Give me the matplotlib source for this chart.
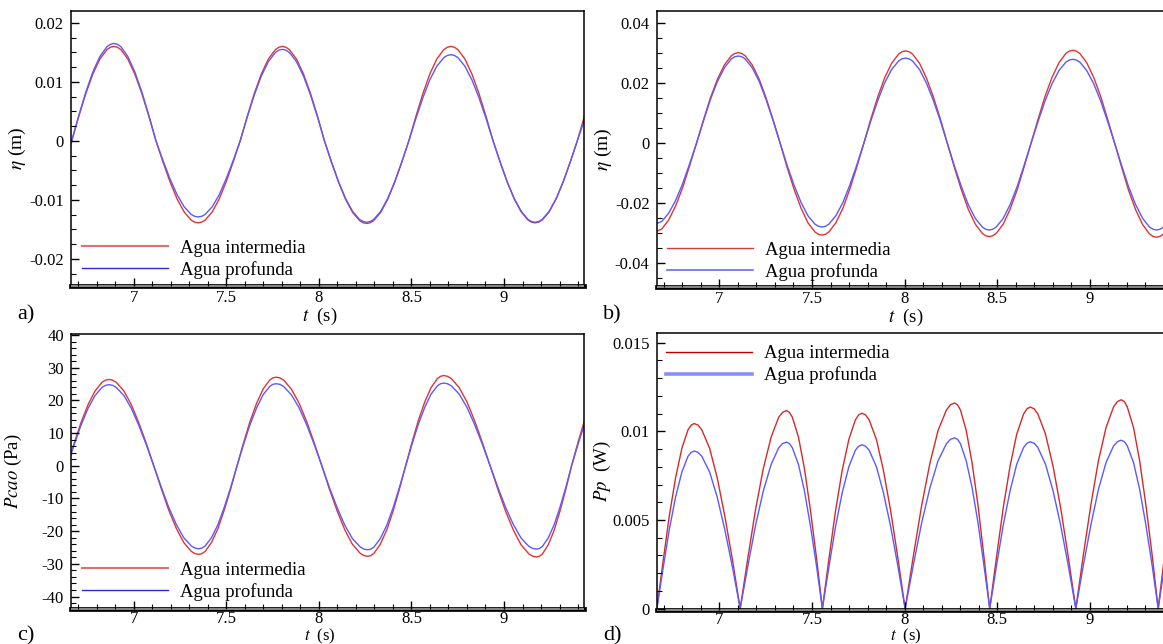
import matplotlib
matplotlib.use('Agg')
import matplotlib.pyplot as plt
from matplotlib.lines import Line2D
from matplotlib.ticker import MultipleLocator, FuncFormatter

plt.rcParams['font.family'] = ['Liberation Serif', 'DejaVu Serif']
plt.rcParams['mathtext.fontset'] = 'stix'
plt.rcParams['axes.unicode_minus'] = False

# ---------------- data ----------------
series_labels = ['Agua intermedia', 'Agua profunda']

# panel a) eta (m)
t_a = [6.627, 6.665, 6.703, 6.741, 6.779, 6.817, 6.855, 6.893, 6.931, 6.968, 7.006,
       7.044, 7.082, 7.120, 7.158, 7.196, 7.234, 7.272, 7.310, 7.348, 7.386, 7.424,
       7.462, 7.499, 7.537, 7.575, 7.613, 7.651, 7.689, 7.727, 7.765, 7.803, 7.841,
       7.879, 7.917, 7.955, 7.993, 8.030, 8.068, 8.106, 8.144, 8.182, 8.220, 8.258,
       8.296, 8.334, 8.372, 8.410, 8.448, 8.486, 8.524, 8.562, 8.599, 8.637, 8.675,
       8.713, 8.751, 8.789, 8.827, 8.865, 8.903, 8.941, 8.979, 9.017, 9.055, 9.093,
       9.130, 9.168, 9.206, 9.244, 9.282, 9.320, 9.358, 9.396, 9.434]
eta_a_int = [-0.0036,
             0, .00414, .0080, .01131, .01386, .01545, .0160, .01545, .01386, .01131, .0080, .00414, 0,
             -.0036, -.00695, -.00983, -.01204, -.01343, -.0139, -.01343, -.01204, -.00983, -.00695, -.0036, 0,
             .00414, .0080, .01131, .01386, .01545, .0160, .01545, .01386, .01131, .0080, .00414, 0,
             -.00362, -.0070, -.0099, -.01212, -.01352, -.0140, -.01352, -.01212, -.0099, -.0070, -.00362, 0,
             .00414, .0080, .01131, .01386, .01545, .0160, .01545, .01386, .01131, .0080, .00414, 0,
             -.0036, -.00695, -.00983, -.01204, -.01343, -.0139, -.01343, -.01204, -.00983, -.00695, -.0036, 0,
             .00414]
eta_a_prof = [-0.0034,
              0, .00427, .00825, .01167, .01429, .01594, .0165, .01594, .01429, .01167, .00825, .00427, 0,
              -.00334, -.00645, -.00912, -.01117, -.01246, -.0129, -.01246, -.01117, -.00912, -.00645, -.00334, 0,
              .00401, .00775, .01096, .01342, .01497, .0155, .01497, .01342, .01096, .00775, .00401, 0,
              -.00357, -.0069, -.00976, -.01195, -.01333, -.0138, -.01333, -.01195, -.00976, -.0069, -.00357, 0,
              .00378, .0073, .01032, .01264, .0141, .0146, .0141, .01264, .01032, .0073, .00378, 0,
              -.00357, -.0069, -.00976, -.01195, -.01333, -.0138, -.01333, -.01195, -.00976, -.0069, -.00357, 0,
              .0035]
# extra points read next to each crest / trough
t_a_ext = [6.874, 6.912, 7.329, 7.367, 7.784, 7.822, 8.239, 8.277, 8.694, 8.732, 9.149, 9.187]
eta_a_int_ext = [.01586, .01586, -.01378, -.01378, .01586, .01586,
                 -.01388, -.01388, .01586, .01586, -.01378, -.01378]
eta_a_prof_ext = [.01636, .01636, -.01279, -.01279, .01537, .01537,
                  -.01368, -.01368, .01447, .01447, -.01368, -.01368]

# panel b) eta (m)
t_b = [6.650, 6.688, 6.725, 6.763, 6.801, 6.838, 6.876, 6.914, 6.951, 6.989, 7.027,
       7.064, 7.102, 7.139, 7.177, 7.215, 7.252, 7.290, 7.328, 7.365, 7.403, 7.441,
       7.478, 7.516, 7.554, 7.591, 7.629, 7.667, 7.704, 7.742, 7.780, 7.817, 7.855,
       7.892, 7.930, 7.968, 8.005, 8.043, 8.081, 8.118, 8.156, 8.194, 8.231, 8.269,
       8.307, 8.344, 8.382, 8.420, 8.457, 8.495, 8.533, 8.570, 8.608, 8.645, 8.683,
       8.721, 8.758, 8.796, 8.834, 8.871, 8.909, 8.947, 8.984, 9.022, 9.060, 9.097,
       9.135, 9.173, 9.210, 9.248, 9.286, 9.323, 9.361, 9.398, 9.436]
eta_b_int = [-.0296, -.02859, -.02563, -.02093, -.0148, -.00766, 0,
             .00782, .0151, .02135, .02615, .02917, .0302, .02917, .02615, .02135, .0151, .00782, 0,
             -.00792, -.0153, -.02164, -.0265, -.02956, -.0306, -.02956, -.0265, -.02164, -.0153, -.00792, 0,
             .00797, .0154, .02178, .02667, .02975, .0308, .02975, .02667, .02178, .0154, .00797, 0,
             -.00805, -.01555, -.02199, -.02693, -.03004, -.0311, -.03004, -.02693, -.02199, -.01555, -.00805, 0,
             .00802, .0155, .02192, .02685, .02994, .0310, .02994, .02685, .02192, .0155, .00802, 0,
             -.0081, -.01565, -.02213, -.02711, -.03023, -.0313, -.03023, -.02711]
eta_b_prof = [-.0270, -.02608, -.02338, -.01909, -.0135, -.00699, 0,
              .00753, .01455, .02058, .0252, .02811, .0291, .02811, .0252, .02058, .01455, .00753, 0,
              -.00722, -.01395, -.01973, -.02416, -.02695, -.0279, -.02695, -.02416, -.01973, -.01395, -.00722, 0,
              .00735, .0142, .02008, .02459, .02743, .0284, .02743, .02459, .02008, .0142, .00735, 0,
              -.00748, -.01445, -.02044, -.02503, -.02791, -.0289, -.02791, -.02503, -.02044, -.01445, -.00748, 0,
              .00725, .014, .0198, .02425, .02705, .0280, .02705, .02425, .0198, .014, .00725, 0,
              -.00748, -.01445, -.02044, -.02503, -.02791, -.0289, -.02791, -.02503]
t_b_ext = [7.083, 7.121, 7.535, 7.573, 7.986, 8.024, 8.438, 8.476, 8.890, 8.928, 9.342, 9.380]
eta_b_int_ext = [.02994, .02994, -.03034, -.03034, .03054, .03054,
                 -.03083, -.03083, .03073, .03073, -.03103, -.03103]
eta_b_prof_ext = [.02885, .02885, -.02766, -.02766, .02816, .02816,
                  -.02865, -.02865, .02776, .02776, -.02865, -.02865]

# panel c) P_cao (Pa)
t_c = [6.640, 6.678, 6.715, 6.753, 6.791, 6.828, 6.866,
       6.906, 6.947, 6.987, 7.027, 7.068, 7.108,
       7.149, 7.189, 7.230, 7.270, 7.311, 7.351,
       7.386, 7.420, 7.455, 7.489, 7.524, 7.558,
       7.593, 7.628, 7.664, 7.699, 7.734, 7.769,
       7.810, 7.851, 7.893, 7.934, 7.975, 8.016,
       8.057, 8.099, 8.140, 8.181, 8.223, 8.264,
       8.298, 8.332, 8.367, 8.401, 8.435, 8.469,
       8.503, 8.537, 8.572, 8.606, 8.640, 8.674,
       8.716, 8.758, 8.800, 8.841, 8.883, 8.925,
       8.967, 9.009, 9.051, 9.092, 9.134, 9.176,
       9.208, 9.239, 9.271, 9.302, 9.334, 9.365,
       9.400, 9.435]
p_c_int = [0, 6.83, 13.2, 18.67, 22.86, 25.5, 26.4,
           25.5, 22.86, 18.67, 13.2, 6.83, 0,
           -7.01, -13.55, -19.16, -23.47, -26.18, -27.1,
           -26.18, -23.47, -19.16, -13.55, -7.01, 0,
           7.01, 13.55, 19.16, 23.47, 26.18, 27.1,
           26.18, 23.47, 19.16, 13.55, 7.01, 0,
           -7.17, -13.85, -19.59, -23.99, -26.76, -27.7,
           -26.76, -23.99, -19.59, -13.85, -7.17, 0,
           7.14, 13.8, 19.52, 23.9, 26.66, 27.6,
           26.66, 23.9, 19.52, 13.8, 7.14, 0,
           -7.22, -13.95, -19.73, -24.16, -26.95, -27.9,
           -26.95, -24.16, -19.73, -13.95, -7.22, 0,
           7.2, 13.9]
p_c_prof = [0, 6.42, 12.4, 17.54, 21.48, 23.95, 24.8,
            23.95, 21.48, 17.54, 12.4, 6.42, 0,
            -6.57, -12.7, -17.96, -22.0, -24.53, -25.4,
            -24.53, -22.0, -17.96, -12.7, -6.57, 0,
            6.5, 12.55, 17.75, 21.74, 24.24, 25.1,
            24.24, 21.74, 17.75, 12.55, 6.5, 0,
            -6.65, -12.85, -18.17, -22.26, -24.82, -25.7,
            -24.82, -22.26, -18.17, -12.85, -6.65, 0,
            6.55, 12.65, 17.89, 21.91, 24.44, 25.3,
            24.44, 21.91, 17.89, 12.65, 6.55, 0,
            -6.6, -12.75, -18.03, -22.08, -24.63, -25.5,
            -24.63, -22.08, -18.03, -12.75, -6.6, 0,
            6.6, 12.75]
t_c_ext = [6.847, 6.886, 7.331, 7.368, 7.751, 7.790, 8.243, 8.281, 8.657, 8.695, 9.155, 9.192]
p_c_int_ext = [26.17, 26.17, -26.87, -26.87, 26.87, 26.87,
               -27.46, -27.46, 27.36, 27.36, -27.66, -27.66]
p_c_prof_ext = [24.59, 24.59, -25.18, -25.18, 24.89, 24.89,
                -25.48, -25.48, 25.08, 25.08, -25.28, -25.28]

# panel d) P_p (W)
t_d = [6.662, 6.696, 6.729, 6.763, 6.797, 6.830, 6.864,
       6.905, 6.947, 6.988, 7.029, 7.071, 7.112,
       7.154, 7.195, 7.237, 7.279, 7.320, 7.362,
       7.394, 7.427, 7.459, 7.491, 7.524, 7.556,
       7.592, 7.627, 7.663, 7.699, 7.734, 7.770,
       7.809, 7.848, 7.886, 7.925, 7.964, 8.003,
       8.048, 8.092, 8.137, 8.181, 8.226, 8.270,
       8.302, 8.333, 8.365, 8.397, 8.428, 8.460,
       8.497, 8.533, 8.570, 8.606, 8.643, 8.679,
       8.720, 8.761, 8.802, 8.843, 8.884, 8.925,
       8.966, 9.007, 9.047, 9.088, 9.129, 9.170,
       9.203, 9.237, 9.270, 9.303, 9.337, 9.370,
       9.405, 9.440]
pp_d_int = [0, .0027, .00522, .00738, .00904, .01008, .01044,
            .01008, .00904, .00738, .00522, .0027, 0,
            .00289, .00559, .0079, .00967, .01079, .01117,
            .01079, .00967, .0079, .00559, .00289, 0,
            .00285, .00551, .00779, .00954, .01064, .01102,
            .01064, .00954, .00779, .00551, .00285, 0,
            .003, .0058, .0082, .01005, .0112, .0116,
            .0112, .01005, .0082, .0058, .003, 0,
            .00294, .00569, .00804, .00985, .01098, .01137,
            .01098, .00985, .00804, .00569, .00294, 0,
            .00305, .00589, .00833, .0102, .01138, .01178,
            .01138, .0102, .00833, .00589, .00305, 0,
            .00305, .00589]
pp_d_prof = [0, .0023, .00445, .00629, .0077, .00859, .00889,
             .00859, .0077, .00629, .00445, .0023, 0,
             .00243, .0047, .00664, .00813, .00907, .00939,
             .00907, .00813, .00664, .0047, .00243, 0,
             .00239, .00462, .00653, .008, .00893, .00924,
             .00893, .008, .00653, .00462, .00239, 0,
             .00249, .00482, .00681, .00834, .0093, .00963,
             .0093, .00834, .00681, .00482, .00249, 0,
             .00244, .00471, .00665, .00815, .00909, .00941,
             .00909, .00815, .00665, .00471, .00244, 0,
             .00246, .00475, .00672, .00823, .00918, .0095,
             .00918, .00823, .00672, .00475, .00246, 0,
             .00246, .00475]
t_d_ext = [6.847, 6.885, 7.341, 7.378, 7.752, 7.789, 8.248, 8.286, 8.661, 8.700, 9.150, 9.187]
pp_d_int_ext = [.01035, .01035, .01107, .01107, .01093, .01093,
                .0115, .0115, .01127, .01127, .01168, .01168]
pp_d_prof_ext = [.00881, .00881, .00931, .00931, .00916, .00916,
                 .00955, .00955, .00933, .00933, .00942, .00942]


def merged(t, y, t_ext, y_ext):
    pts = sorted(zip(list(t) + list(t_ext), list(y) + list(y_ext)))
    return [p[0] for p in pts], [p[1] for p in pts]

# ---------------- figure ----------------
W, H = 1163, 644
fig = plt.figure(figsize=(W / 100, H / 100), dpi=100)

RED = '#e03434'
BLUE = '#5a5aff'

def px_axes(left, top, right, bottom):
    return fig.add_axes([left / W, 1 - bottom / H, (right - left) / W, (bottom - top) / H])

def fmt(v, pos):
    if abs(v) < 1e-12:
        return '0'
    return '%g' % v

def style(ax, ylim, ymaj, ymin, xpad):
    ax.set_xlim(6.66, 9.43)
    ax.set_ylim(*ylim)
    ax.xaxis.set_major_locator(MultipleLocator(0.5))
    ax.xaxis.set_minor_locator(MultipleLocator(0.1))
    ax.yaxis.set_major_locator(MultipleLocator(ymaj))
    ax.yaxis.set_minor_locator(MultipleLocator(ymin))
    ax.xaxis.set_major_formatter(FuncFormatter(fmt))
    ax.yaxis.set_major_formatter(FuncFormatter(fmt))
    ax.tick_params(which='both', direction='in', top=False, right=False,
                   labelsize=12, colors='black')
    ax.tick_params(which='major', length=6, width=1.0, pad=5)
    ax.tick_params(axis='x', which='major', pad=xpad)
    ax.tick_params(which='minor', length=3.5, width=0.8)
    for s in ['top', 'left', 'right']:
        ax.spines[s].set_linewidth(1.1)
    ax.spines['bottom'].set_linewidth(3.4)
    ax.spines['bottom'].set_color('black')
    ax.plot([0, 1], [0, 0], transform=ax.transAxes, color='#8a8a8a', lw=1.4,
            clip_on=False, zorder=2.55, solid_capstyle='butt')
    ax.xaxis.set_zorder(2.6)
    ax.yaxis.set_zorder(2.6)

def legend(ax, anchor, c_red, c_blue, lw_red, lw_blue):
    handles = [Line2D([], [], color=c_red, lw=lw_red),
               Line2D([], [], color=c_blue, lw=lw_blue)]
    ax.legend(handles, series_labels, loc='upper left', bbox_to_anchor=anchor,
              frameon=False, fontsize=13.5, handlelength=4.6, handletextpad=0.64,
              labelspacing=0.22, borderpad=0, borderaxespad=0)

ax_a = px_axes(70.8, 11, 583.6, 286)
ax_b = px_axes(656.5, 11, 1169.3, 287)
ax_c = px_axes(70.8, 334, 583.6, 609.3)
ax_d = px_axes(656.5, 333.3, 1169.3, 609.5)

panels = [
    (ax_a, t_a, eta_a_int, eta_a_prof, t_a_ext, eta_a_int_ext, eta_a_prof_ext, RED),
    (ax_b, t_b, eta_b_int, eta_b_prof, t_b_ext, eta_b_int_ext, eta_b_prof_ext, RED),
    (ax_c, t_c, p_c_int, p_c_prof, t_c_ext, p_c_int_ext, p_c_prof_ext, RED),
    (ax_d, t_d, pp_d_int, pp_d_prof, t_d_ext, pp_d_int_ext, pp_d_prof_ext, '#d42a2a'),
]
for ax, t, yi, yp, te, yie, ype, rc in panels:
    tx, ty = merged(t, yi, te, yie)
    ax.plot(tx, ty, color=rc, lw=1.0)
    tx, ty = merged(t, yp, te, ype)
    ax.plot(tx, ty, color=BLUE, lw=1.0)

style(ax_a, (-0.0246, 0.0220), 0.01, 0.0025, 3)
legend(ax_a, (0.0215, 0.168), '#e07070', '#2a2ad8', 1.5, 1.0)
style(ax_b, (-0.0479, 0.0441), 0.02, 0.005, 3)
legend(ax_b, (0.0205, 0.165), '#d43c3c', '#6a6aff', 1.0, 1.2)
style(ax_c, (-43.9, 40.3), 10, 2, 1.5)
legend(ax_c, (0.0215, 0.173), '#e07070', '#2a2ad8', 1.5, 1.0)
style(ax_d, (-0.00005, 0.01553), 0.005, 0.001, 1.5)
legend(ax_d, (0.0185, 0.957), '#c00000', '#8c8cff', 1.0, 2.6)

for ax, lab, lx, fs, xy, xfs in [(ax_a, r'$\eta$ (m)', -0.083, 14, -0.071, 13.5),
                                 (ax_b, r'$\eta$ (m)', -0.082, 14, -0.071, 13.5),
                                 (ax_c, r'$Pcao$ (Pa)', -0.091, 13.5, -0.064, 12),
                                 (ax_d, r'$Pp$  (W)', -0.085, 13.5, -0.061, 12)]:
    ax.set_ylabel(lab, fontsize=fs)
    ax.yaxis.set_label_coords(lx, 0.5)
    ax.set_xlabel(r'$t$  (s)', fontsize=xfs)
    ax.xaxis.set_label_coords(0.486, xy)

for x, y, s in [(17, 319, 'a)'), (603, 319, 'b)'), (17, 640, 'c)'), (603, 640, 'd)')]:
    fig.text(x / W, 1 - y / H, s, fontsize=16, va='baseline', ha='left')

fig.savefig('out.png', dpi=100)
